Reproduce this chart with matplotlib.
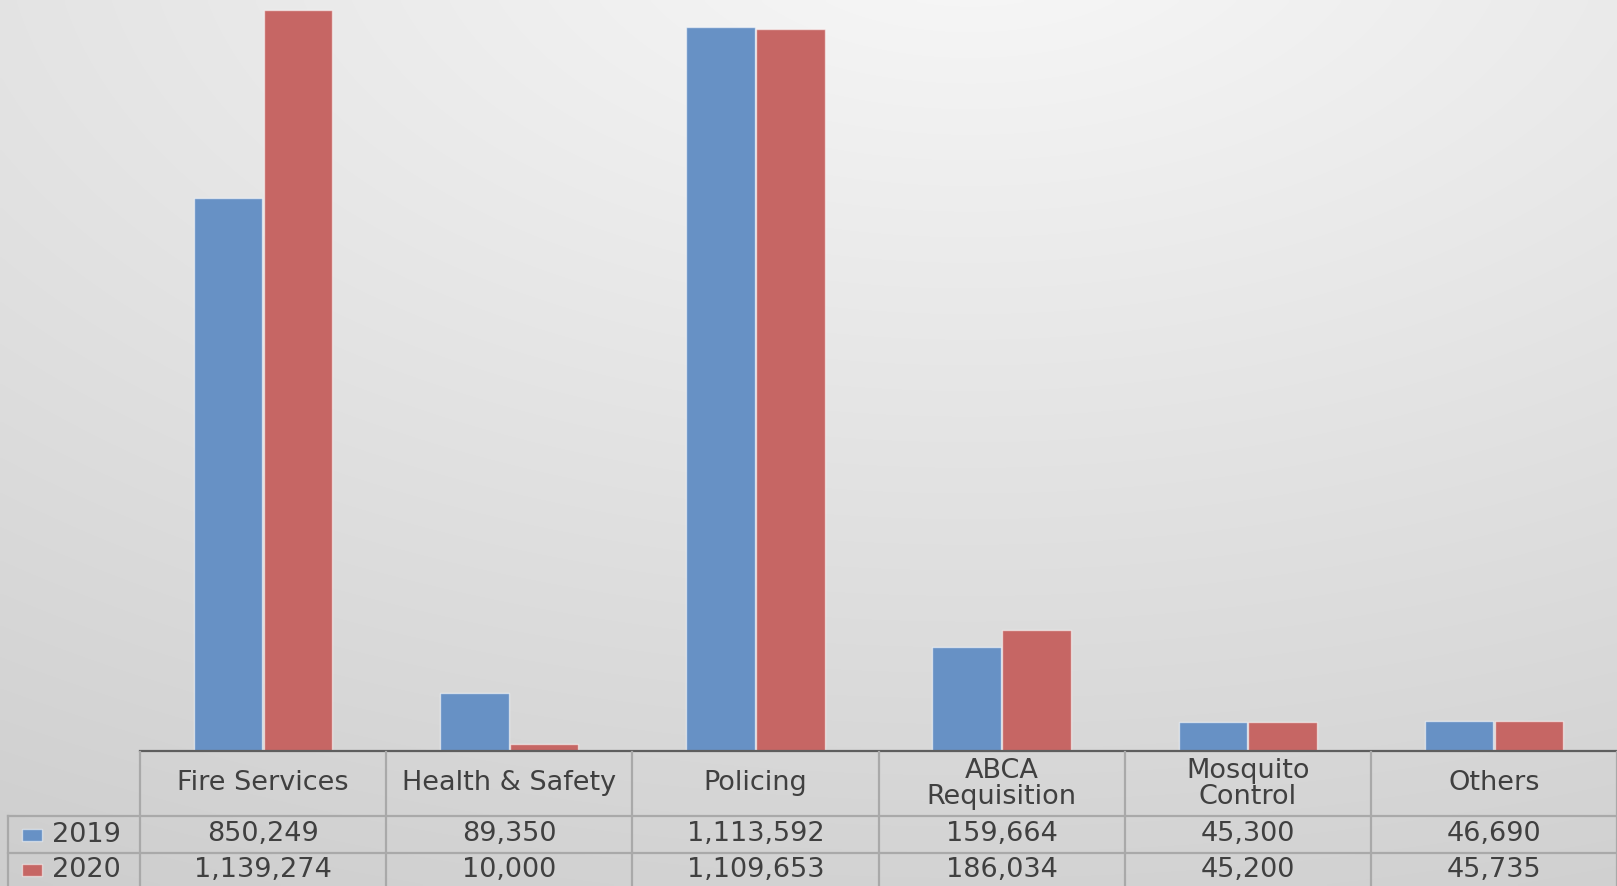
import numpy as np
import matplotlib
matplotlib.use('Agg')
import matplotlib.pyplot as plt
from matplotlib.lines import Line2D
from matplotlib.patches import Rectangle
from matplotlib.transforms import blended_transform_factory

# === DATA ===
categories = ['Fire Services', 'Health & Safety', 'Policing',
              'ABCA\nRequisition', 'Mosquito\nControl', 'Others']
series_names = ['2019', '2020']
values_2019 = [850249, 89350, 1113592, 159664, 45300, 46690]
values_2020 = [1139274, 10000, 1109653, 186034, 45200, 45735]
colors = ['#6791C5', '#C66664']

W, H = 1617, 886
fig = plt.figure(figsize=(W / 100, H / 100), dpi=100)

# soft grey backdrop, brightest near the top middle
bg = fig.add_axes([0, 0, 1, 1], zorder=-5)
u = np.linspace(0, 1, 400)[None, :]
v = np.linspace(0, 1, 220)[:, None]
d = np.sqrt((u - 0.6) ** 2 + (v + 0.1) ** 2)
shade = np.clip(0.975 - 0.135 * d, 0, 1)
bg.imshow(np.dstack([shade] * 3), aspect='auto', extent=[0, 1, 1, 0],
          interpolation='bilinear')
bg.axis('off')

def fx(px):
    return px / W

def fy(py):
    return 1 - py / H

ax_left, ax_base = 140, 751
ax = fig.add_axes([fx(ax_left), fy(ax_base), 1 - fx(ax_left), ax_base / H])
ax.set_facecolor('none')

x = np.arange(len(categories))
bw, off = 0.278, 0.142
ax.bar(x - off, values_2019, bw, color=colors[0], edgecolor=(1, 1, 1, 0.55), lw=1)
ax.bar(x + off, values_2020, bw, color=colors[1], edgecolor=(1, 1, 1, 0.55), lw=1)
ax.set_xlim(-0.5, len(categories) - 0.5)
ax.set_ylim(0, 1155000)
for s in ['top', 'right', 'left']:
    ax.spines[s].set_visible(False)
ax.spines['bottom'].set_color('#5e5e5e')
ax.spines['bottom'].set_linewidth(1.6)
ax.set_xticks([])
ax.set_yticks([])

# === DATA TABLE UNDER THE BARS ===
grid = '#a9a9a9'
txt = '#404040'
fs = 19.5
tr = blended_transform_factory(ax.transData, fig.transFigure)

row_lines = [816, 853]
for ry in row_lines:
    fig.add_artist(Line2D([fx(8), 1], [fy(ry), fy(ry)], color=grid, lw=1.6,
                          transform=fig.transFigure))
for k in range(len(categories) + 1):
    xb = k - 0.5
    fig.add_artist(Line2D([xb, xb], [fy(ax_base + 1), 0], color=grid, lw=1.6,
                          transform=tr, clip_on=False))
fig.add_artist(Line2D([fx(8), fx(8)], [fy(816), 0], color=grid, lw=1.6,
                      transform=fig.transFigure))

header_y = 783.5
row_y = [834.5, 870]
for i, cat in enumerate(categories):
    fig.text(i, fy(header_y), cat, transform=tr, ha='center', va='center',
             fontsize=fs, color=txt, linespacing=1.0)
    for vals, ry in zip([values_2019, values_2020], row_y):
        fig.text(i, fy(ry), f'{vals[i]:,}', transform=tr, ha='center',
                 va='center', fontsize=fs, color=txt)

# series keys in the row-label column
for name, c, ry in zip(series_names, colors, row_y):
    fig.add_artist(Rectangle((fx(22), fy(ry + 6)), fx(20), 12 / H, facecolor=c,
                             edgecolor=(1, 1, 1, 0.5), lw=1,
                             transform=fig.transFigure))
    fig.text(fx(52), fy(ry), name, ha='left', va='center', fontsize=fs, color=txt)

fig.savefig('out.png', dpi=100)
